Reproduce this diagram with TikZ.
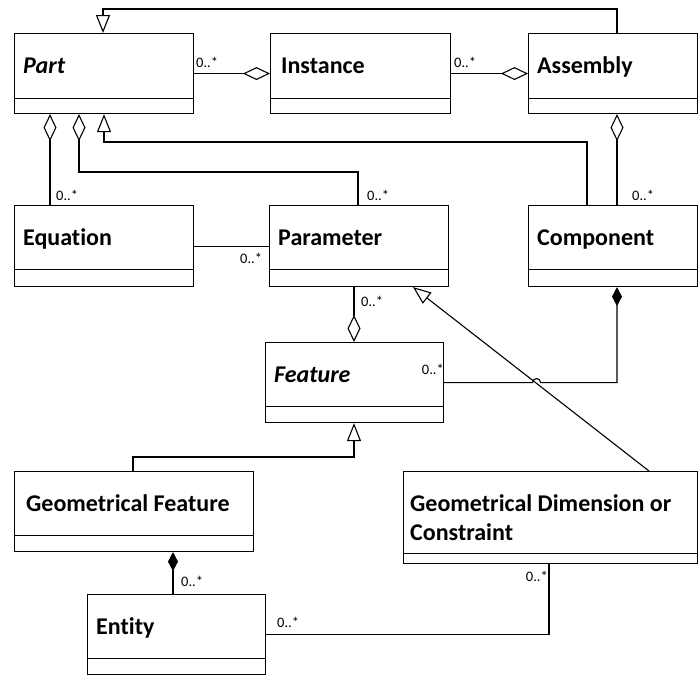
\documentclass[tikz,border=0pt]{standalone}
\usepackage{fontspec}
\setmainfont{Carlito}[Ligatures={NoCommon,NoContextual}]
\usetikzlibrary{arrows.meta}

\tikzset{
  cls/.style={draw, line width=1.1pt, anchor=north west, minimum height=80pt, inner sep=0pt},
  clsname/.style={anchor=base west, inner sep=0pt, align=left, font=\bfseries\fontsize{24}{28.5}\selectfont},
  mult/.style={anchor=base west, inner sep=0pt, font=\fontsize{14.5}{17}\selectfont},
  link/.style={line width=1.1pt},
  aggr/.style={link, -{Diamond[open, fill=white, length=27pt, width=13pt]}},
  compo/.style={link, -{Diamond[length=19pt, width=10pt]}},
  inherit/.style={link, -{Triangle[open, fill=white, length=18pt, width=14pt]}},
}

\begin{document}
\begin{tikzpicture}[x=1pt, y=-1pt]
	\useasboundingbox (0,0) rectangle (699,675);
	% classes
	\node[cls, minimum width=179pt] (part) at (14,33) {};
	\node[cls, minimum width=180pt] (instance) at (270,33) {};
	\node[cls, minimum width=169pt] (assembly) at (528,33) {};
	\node[cls, minimum width=179pt, minimum height=81pt] (equation) at (14,205) {};
	\node[cls, minimum width=179pt, minimum height=81pt] (parameter) at (269,205) {};
	\node[cls, minimum width=169pt, minimum height=81pt] (component) at (528,205) {};
	\node[cls, minimum width=178pt] (feature) at (265,342) {};
	\node[cls, minimum width=239pt] (geofeat) at (14,471) {};
	\node[cls, minimum width=294pt, minimum height=92pt] (geodim) at (403,471) {};
	\node[cls, minimum width=178pt] (entity) at (87,594) {};
	\draw[link] ([yshift=16pt]part.south west) -- ([yshift=16pt]part.south east);
	\draw[link] ([yshift=16pt]instance.south west) -- ([yshift=16pt]instance.south east);
	\draw[link] ([yshift=16pt]assembly.south west) -- ([yshift=16pt]assembly.south east);
	\draw[link] ([yshift=18pt]equation.south west) -- ([yshift=18pt]equation.south east);
	\draw[link] ([yshift=18pt]parameter.south west) -- ([yshift=18pt]parameter.south east);
	\draw[link] ([yshift=18pt]component.south west) -- ([yshift=18pt]component.south east);
	\draw[link] ([yshift=17pt]feature.south west) -- ([yshift=17pt]feature.south east);
	\draw[link] ([yshift=17pt]geofeat.south west) -- ([yshift=17pt]geofeat.south east);
	\draw[link] ([yshift=11pt]geodim.south west) -- ([yshift=11pt]geodim.south east);
	\draw[link] ([yshift=17pt]entity.south west) -- ([yshift=17pt]entity.south east);
	\node[clsname] (partname) at ([xshift=9pt,yshift=-40pt]part.north west) {\itshape Part};
	\node[clsname] (instancename) at ([xshift=11pt,yshift=-40pt]instance.north west) {Instance};
	\node[clsname] (assemblyname) at ([xshift=9pt,yshift=-40pt]assembly.north west) {Assembly};
	\node[clsname] (equationname) at ([xshift=9pt,yshift=-40pt]equation.north west) {Equation};
	\node[clsname] (parametername) at ([xshift=9pt,yshift=-40pt]parameter.north west) {Parameter};
	\node[clsname] (componentname) at ([xshift=9pt,yshift=-40pt]component.north west) {Component};
	\node[clsname] (featurename) at ([xshift=9pt,yshift=-40pt]feature.north west) {\itshape Feature};
	\node[clsname] (geofeatname) at ([xshift=12pt,yshift=-40pt]geofeat.north west) {Geometrical Feature};
	\node[clsname] (geodimname) at ([xshift=7pt,yshift=-69pt]geodim.north west) {Geometrical Dimension or\\Constraint};
	\node[clsname] (entityname) at ([xshift=9pt,yshift=-40pt]entity.north west) {Entity};
	% generalisation
	\draw[inherit] ([xshift=89pt]assembly.north west) -- ++(0,-24) -| ([xshift=89pt]part.north west);
	\draw[inherit] ([xshift=59pt]component.north west) -- ++(0,-63) -| ([xshift=90pt]part.south west);
	\draw[inherit] ([xshift=119pt]geofeat.north west) -- ++(0,-14) -| ([xshift=89pt]feature.south west);
	\draw[inherit] ([xshift=246pt]geodim.north west) -- ([xshift=144pt]parameter.south west);
	% aggregation
	\draw[aggr] (part.east) -- (instance.west);
	\draw[aggr] (instance.east) -- (assembly.west);
	\draw[aggr] ([xshift=36pt]equation.north west) -- ([xshift=36pt]part.south west);
	\draw[aggr] ([xshift=89pt]parameter.north west) -- ++(0,-33) -| ([xshift=65pt]part.south west);
	\draw[aggr] ([xshift=89pt]component.north west) -- ([xshift=89pt]assembly.south west);
	\draw[aggr] ([xshift=85pt]parameter.south west) -- ([xshift=89pt]feature.north west);
	% composition
	\draw[compo] (feature.east) -- ++(88.5,0) arc[start angle=180, end angle=0, radius=4pt] -| ([xshift=89pt]component.south west);
	\draw[compo] ([xshift=86pt]entity.north west) -- ([xshift=159pt]geofeat.south west);
	% association
	\draw[link] (equation.east) -- (parameter.west);
	\draw[link] (entity.east) -| ([xshift=146pt]geodim.south west);
	% multiplicities
	\node[mult] (mpart) at (196,67) {0..*};
	\node[mult] (minst) at (454,67) {0..*};
	\node[mult] (meq) at (56,200) {0..*};
	\node[mult] (mpar) at (367,200) {0..*};
	\node[mult] (mcomp) at (632,200) {0..*};
	\node[mult] (meqpar) at (240,263) {0..*};
	\node[mult] (mfeat) at (361,306) {0..*};
	\node[mult, anchor=base east] (mfeatcomp) at (444,374) {0..*};
	\node[mult] (ment) at (181,586) {0..*};
	\node[mult] (mentdim) at (277,627) {0..*};
	\node[mult, anchor=base east] (mdim) at (548,581) {0..*};
\end{tikzpicture}
\end{document}
